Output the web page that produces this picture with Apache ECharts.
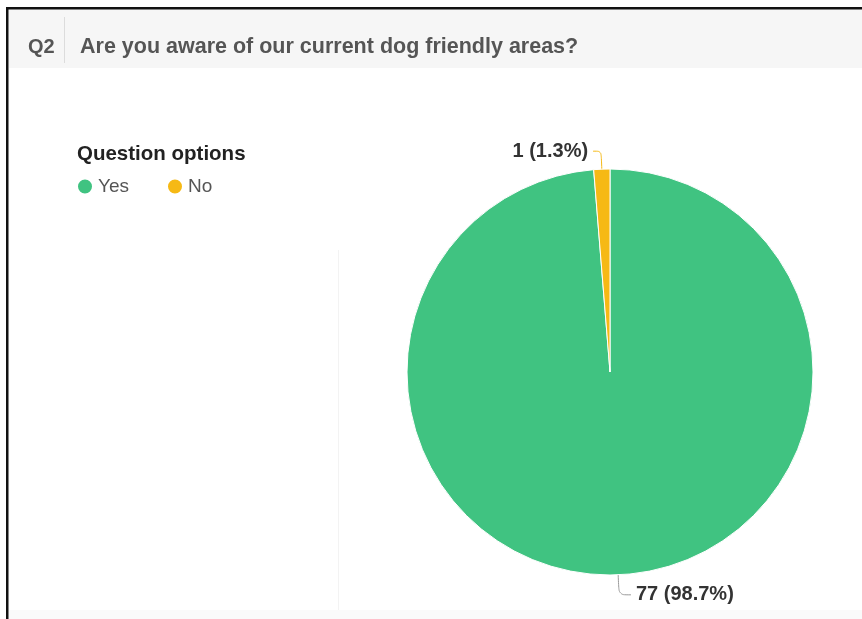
<!DOCTYPE html>
<html>
<head>
<meta charset="utf-8">
<script src="https://cdn.jsdelivr.net/npm/echarts@6/dist/echarts.min.js"></script>
<style>
html,body{margin:0;padding:0;background:#fff;}
#chart{width:862px;height:619px;}
</style>
</head>
<body>
<div id="chart"></div>
<script>
const categories = ['Yes', 'No'];
const counts = [77, 1];
const questionNumber = 'Q2';
const questionText = 'Are you aware of our current dog friendly areas?';
const legendTitle = 'Question options';

const colors = ['#40c381', '#f6b915'];
const lineColors = ['#9a9a9a', '#f6b915'];
const lineLengths = [[20, 12], [18, 8]];

const chart = echarts.init(document.getElementById('chart'), null, {renderer: 'canvas'});
const font = 'Liberation Sans, Arial, Helvetica, sans-serif';

const data = categories.map((name, i) => ({
  name: name,
  value: counts[i],
  itemStyle: {color: colors[i]},
  labelLine: {length: lineLengths[i][0], length2: lineLengths[i][1], lineStyle: {color: lineColors[i]}}
}));

chart.setOption({
  animation: false,
  backgroundColor: '#ffffff',
  graphic: [
    {type: 'rect', shape: {x: 9, y: 9, width: 853, height: 59}, style: {fill: '#f6f6f6'}, z: -10},
    {type: 'rect', shape: {x: 6, y: 7, width: 856, height: 2.5}, style: {fill: '#111'}, z: 10},
    {type: 'rect', shape: {x: 6, y: 7, width: 2.5, height: 612}, style: {fill: '#111'}, z: 10},
    {type: 'rect', shape: {x: 64, y: 17, width: 1, height: 46}, style: {fill: '#dcdcdc'}, z: 1},
    {type: 'rect', shape: {x: 338, y: 250, width: 1, height: 362}, style: {fill: '#f3f3f3'}, z: -5},
    {type: 'rect', shape: {x: 9, y: 610, width: 853, height: 9}, style: {fill: '#fafafa'}, z: -5}
  ],
  title: [
    {text: questionNumber, left: 23, top: 32,
     textStyle: {fontFamily: font, fontSize: 20, fontWeight: 'bold', color: '#555'}},
    {text: questionText, left: 75, top: 31,
     textStyle: {fontFamily: font, fontSize: 21.5, fontWeight: 'bold', color: '#555'}},
    {text: legendTitle, left: 72, top: 139,
     textStyle: {fontFamily: font, fontSize: 20.5, fontWeight: 'bold', color: '#222'}}
  ],
  legend: {
    left: 71, top: 172,
    icon: 'circle', itemWidth: 16, itemHeight: 16, itemGap: 37,
    data: categories,
    textStyle: {fontFamily: font, fontSize: 19, color: '#555'}
  },
  series: [{
    type: 'pie',
    center: [610, 372],
    radius: 203,
    startAngle: 90,
    clockwise: true,
    percentPrecision: 1,
    avoidLabelOverlap: false,
    label: {
      show: true,
      formatter: '{c} ({d}%)',
      fontFamily: font,
      fontSize: 20,
      fontWeight: 'bold',
      color: '#333'
    },
    labelLine: {show: true, smooth: 0.3},
    itemStyle: {borderColor: '#ffffff', borderWidth: 1},
    data: data
  }]
});
</script>
</body>
</html>
